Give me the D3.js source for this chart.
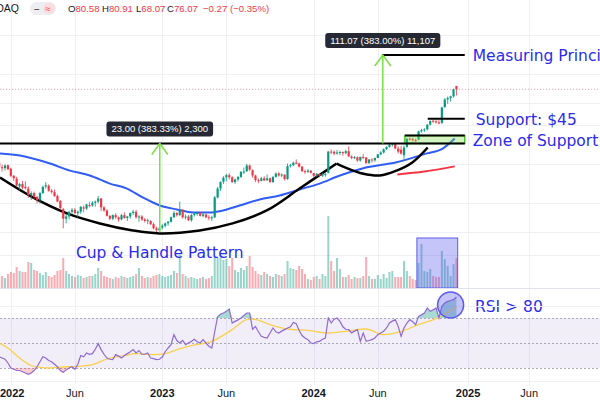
<!DOCTYPE html>
<html>
<head>
<meta charset="utf-8">
<script src="https://cdn.jsdelivr.net/npm/d3@7/dist/d3.min.js"></script>
<style>
  body { margin: 0; background: #fff; }
  svg { display: block; }
</style>
</head>
<body>
<div id="chart"></div>
<script>
// Store the dimensions of the SVG container
var svgWidth = 600;
var svgHeight = 400;

// weekly bars, week of Dec 6 2021 -> week of Dec 9 2024 (158 bars)
var weeks = d3.timeMonday.range(new Date(2021, 11, 6), new Date(2024, 11, 10));

var opens = [20.6,19.0,18.7,19.7,18.5,16.3,15.5,13.5,14.1,13.4,
  13.0,11.6,12.0,11.2,10.6,12.0,13.5,13.7,12.5,12.2,
  11.4,10.4,9.0,7.6,7.9,8.6,8.9,8.4,8.6,9.3,
  9.1,9.7,9.6,10.1,10.3,10.9,9.3,8.8,8.0,7.6,
  8.1,7.8,7.5,8.1,7.7,7.9,8.4,8.6,7.8,7.9,
  7.5,7.3,7.3,6.9,6.4,6.2,6.5,6.7,7.0,7.2,
  7.8,8.4,8.1,8.9,7.8,7.9,7.4,8.1,8.3,8.4,
  8.0,8.2,7.8,7.7,7.8,11.1,13.0,14.7,15.9,16.5,
  15.9,14.6,15.3,16.0,17.5,17.7,19.6,18.0,16.4,15.1,
  14.9,15.6,15.1,15.6,14.6,16.0,17.0,16.4,16.6,15.4,
  19.5,19.7,20.6,20.3,19.2,17.7,17.5,17.9,17.1,16.3,
  16.9,16.3,16.8,17.2,25.1,25.0,24.2,24.7,24.9,24.4,
  25.3,23.0,22.4,22.7,21.4,22.8,22.6,20.4,21.8,21.5,
  22.4,23.9,24.7,26.2,27.3,28.4,28.9,26.5,26.0,23.5,
  27.2,31.6,31.5,30.8,31.0,36.0,36.8,37.3,40.5,43.5,
  43.0,42.2,41.9,55.5,63.5,65.1,67.1,80.58];

var highs = [21.2,19.9,20.0,19.9,18.8,16.6,16.0,14.4,14.9,14.8,
  13.5,12.4,12.3,11.4,12.2,13.7,14.6,14.0,12.9,12.8,
  11.7,10.6,9.2,8.3,8.7,9.2,9.2,8.8,9.5,9.6,
  9.9,10.2,10.4,10.5,11.4,11.0,9.5,9.0,8.1,8.2,
  8.4,7.9,8.3,8.5,8.0,8.5,8.9,8.9,8.1,8.1,
  7.7,7.6,7.4,7.1,6.6,6.5,6.9,7.1,7.3,7.9,
  8.7,8.6,10.3,9.0,8.2,8.1,8.3,8.5,8.6,8.6,
  8.4,8.3,8.1,8.0,11.4,13.4,14.8,16.2,16.9,17.1,
  16.2,15.5,16.2,17.8,18.9,20.2,19.9,18.3,16.6,15.6,
  16.0,16.2,16.7,15.8,16.2,17.3,17.4,17.0,16.8,20.3,
  20.1,21.0,21.8,20.6,19.4,18.2,18.4,18.0,17.2,17.1,
  17.0,17.2,17.3,25.4,26.1,25.6,25.9,25.5,25.2,26.0,
  27.5,23.5,23.2,23.0,23.0,24.0,22.8,22.0,22.3,22.6,
  24.1,25.3,26.5,27.6,28.8,29.3,29.2,27.5,27.7,28.0,
  31.8,32.3,32.0,31.6,36.4,37.6,38.0,41.0,43.8,44.3,
  44.6,44.0,55.8,65.0,66.9,67.8,76.9,80.91];

var lows = [18.6,17.6,17.9,18.2,15.9,14.9,13.6,12.6,12.8,12.8,
  11.0,10.6,10.8,10.0,10.0,11.8,13.0,12.3,11.9,11.2,
  10.2,9.0,6.4,7.0,7.5,8.3,8.3,7.8,8.3,8.5,
  8.9,9.3,9.4,9.4,10.0,8.7,8.6,7.9,7.4,7.4,
  7.6,7.2,7.4,7.6,7.3,7.6,8.1,7.6,7.2,7.3,
  7.1,6.9,6.8,6.3,6.0,5.92,6.3,6.5,6.7,7.1,
  7.7,7.9,8.0,7.6,7.5,7.3,7.2,7.9,8.0,7.9,
  7.8,7.7,7.4,7.3,7.7,10.9,12.4,14.1,14.8,15.3,
  14.3,14.1,14.8,15.7,16.8,17.5,17.8,15.8,14.6,14.3,
  14.8,14.9,14.9,14.4,14.4,15.8,16.1,15.9,15.0,15.2,
  18.9,19.3,20.0,18.9,17.5,16.9,17.2,17.0,15.7,16.0,
  15.9,16.0,16.1,17.0,24.0,23.5,23.8,23.6,23.3,23.9,
  22.9,21.9,22.0,20.9,21.0,21.9,20.3,20.3,20.6,20.9,
  22.3,23.5,24.3,25.8,26.9,27.4,26.2,24.3,23.8,21.2,
  27.0,30.6,30.0,29.7,30.8,35.2,35.6,36.5,40.0,41.8,
  41.3,40.8,41.0,54.5,58.6,61.0,65.5,68.07];

var closes = [19.0,18.7,19.6,18.3,16.3,15.6,13.7,14.1,13.2,13.1,
  11.6,12.0,11.2,10.6,12.0,13.4,13.8,12.5,12.2,11.4,
  10.3,9.2,7.6,7.9,8.6,8.9,8.4,8.6,9.4,9.1,
  9.8,9.6,10.1,10.3,10.9,9.3,8.8,8.0,7.6,8.1,
  7.8,7.5,8.1,7.7,7.9,8.4,8.6,7.8,7.9,7.5,
  7.3,7.4,6.9,6.4,6.2,6.42,6.7,7.0,7.2,7.8,
  8.4,8.1,8.9,7.8,7.9,7.4,8.1,8.3,8.4,8.0,
  8.2,7.8,7.7,7.8,11.1,13.0,14.6,15.8,16.5,15.9,
  14.6,15.3,16.0,17.5,17.6,19.6,18.2,16.4,15.1,14.8,
  15.6,15.0,15.6,14.6,16.0,17.0,16.4,16.7,15.4,19.4,
  19.7,20.6,20.3,19.2,17.7,17.5,17.9,17.2,16.3,16.9,
  16.3,16.8,16.9,25.1,25.0,24.2,24.7,24.9,24.4,25.3,
  23.0,22.4,22.7,21.4,22.8,22.6,20.4,21.8,21.5,22.4,
  23.9,24.7,26.2,27.3,28.4,28.9,26.5,25.1,24.2,27.0,
  31.6,31.5,30.8,30.4,36.0,36.8,37.3,40.5,43.3,42.9,
  42.2,41.4,55.0,63.5,65.1,67.1,76.34,76.07];

// weekly volume (millions of shares)
var volumes = [165,180,150,210,240,225,315,255,240,240,
  390,375,270,255,225,195,240,180,165,195,
  255,270,450,255,210,180,165,195,180,150,
  165,180,180,210,300,255,180,165,150,135,
  165,150,180,165,150,165,180,210,300,180,
  150,165,150,180,195,210,180,165,180,195,
  255,225,495,210,180,150,165,150,135,150,
  165,135,150,180,480,450,495,420,435,330,
  450,270,240,300,270,330,480,315,255,210,
  195,240,210,180,165,210,195,180,210,405,
  300,285,270,330,285,210,135,120,165,180,
  135,210,180,1080,405,255,450,285,165,165,
  195,135,165,150,150,180,465,180,135,135,
  195,135,210,150,240,255,165,165,165,405,
  255,180,135,120,375,660,255,240,285,180,
  165,165,555,435,330,180,360,450];

// weekly RSI(14)
var rsi = [39,38,37,34,30,29,28,28,27,26,
  25,26,28,31,35,39,38,36,35,33,
  31,28,26.5,28.5,30,31,29,33,40,39,
  42,41,41.5,45,49.5,44.7,41,38,37,36.7,
  40.7,39.5,38,40,41.5,43,44.7,42,44,41,
  41,42,38,37.5,36.7,37,38.8,43,46,48.7,
  56.7,52,50,52,48.7,50,51.3,53,51,50,
  52.7,50,47.3,46,59,71,73,74,75.3,77.2,
  66,67.3,68.5,70,72,74,74,61,63.3,59,
  55.3,54.5,54,58,62,59,58,59.5,60.7,62,
  63,66.5,65.5,60,56,54,52.7,50,49.5,51,
  51.3,53,54,70,66,69,70,67.3,63,61,
  60.7,58,59.5,60.7,51.3,58,51.3,52,52.7,54,
  56.7,58,59.3,62,66,67.5,68.7,63.3,55.3,62,
  66,68.7,67,64.7,71.3,72.5,74,78,75.3,76.5,
  78,70,79.3,82,83.3,84,84.7,86.8];

// RSI moving average (yellow), read at these bar indexes
var rsiMaIdx = [0,3,7,11,14,17,22,27,32,37,43,47,53,57,61,66,73,80,85,87,93,99,106,113,119,126,132,138,144,151,157];
var rsiMaVals = [50,46,38,32,30.5,30,30.8,31.3,32.7,37.2,39.9,41.5,40.7,41.5,44.7,47.9,51.3,60.7,68.7,69.2,64.7,61.2,60.1,58,59.3,61.2,56.7,59.3,64.7,70.5,78.8];

// 50-week SMA (blue)
var sma50Dates = ["2021-12-08","2022-01-25","2022-04-07","2022-05-25","2022-07-12","2022-08-29","2022-10-09","2022-11-16","2022-12-27","2023-02-06","2023-03-17","2023-04-26","2023-05-28","2023-07-07","2023-08-24","2023-10-11","2023-11-28","2024-01-15","2024-03-04","2024-04-27","2024-07-18","2024-09-29","2024-11-06","2024-12-05"];
var sma50Vals = [24.3,23.4,20.3,17.9,16.4,14.2,13.0,11.1,9.62,8.96,8.49,8.49,8.8,9.62,10.7,11.5,12.8,14.2,16.4,18.6,20.8,24.3,26.5,31.7];

// 200-week SMA (red)
var sma200Dates = ["2024-07-20","2024-09-23","2024-12-05"];
var sma200Vals = [16.7,17.6,19.3];

// cup and handle drawing
var cupDates = ["2021-12-08","2022-02-25","2022-05-18","2022-08-05","2022-10-23","2022-12-27","2023-04-02","2023-06-20","2023-09-10","2023-11-28","2024-02-25"];
var cupVals = [15.8,11.1,8.35,6.99,6.17,5.85,6.17,6.99,8.8,13.0,20.3];
var handleDates = ["2024-02-25","2024-03-28","2024-04-27","2024-06-08","2024-07-18","2024-08-25","2024-10-01"];
var handleVals = [20.3,18.3,17.0,16.4,17.9,20.7,27.0];

// price levels
var cupLow = 6.00;
var rimPrice = 29.00;
var targetPrice = 140.07;
var supportPrice = 45;
var zoneTop = 33.4;

// time axis
var tickDates = ["2022-01-03","2022-06-06","2023-01-02","2023-06-05","2024-01-01","2024-06-03","2025-01-06","2025-06-02"];
var tickLabels = ["2022","Jun","2023","Jun","2024","Jun","2025","Jun"];
var priceGrid = [4, 6, 10, 20, 40, 60, 100, 200];

var parse = d3.timeParse("%Y-%m-%d");
var blue = "#2b2bea";
var arrowGreen = "#77e046";
var uiFont = "'Liberation Sans', Arial, sans-serif";

var svg = d3.select("#chart")
  .append("svg")
  .attr("width", svgWidth)
  .attr("height", svgHeight);

var xScale = d3.scaleTime()
  .domain([new Date(2022, 0, 1), new Date(2025, 0, 1)])
  .range([10, 466]);

var yPrice = d3.scaleLog()
  .domain([cupLow, targetPrice])
  .range([232, 55]);

var yVol = d3.scaleLinear()
  .domain([0, 1080])
  .range([288, 216]);

var yRsi = d3.scaleLinear()
  .domain([30, 70])
  .range([368, 318]);

var defs = svg.append("defs");
defs.append("clipPath").attr("id", "mainClip")
  .append("rect").attr("x", 0).attr("y", 0).attr("width", svgWidth).attr("height", 288);
defs.append("clipPath").attr("id", "rsiClip")
  .append("rect").attr("x", 0).attr("y", 289).attr("width", svgWidth).attr("height", 96);

// grid
var grid = svg.append("g");
grid.selectAll(".vgrid")
  .data(tickDates)
  .join("line")
  .attr("x1", d => Math.round(xScale(parse(d))) + 0.5)
  .attr("x2", d => Math.round(xScale(parse(d))) + 0.5)
  .attr("y1", 0).attr("y2", 385)
  .attr("stroke", "#eef0f4");
grid.selectAll(".hgrid")
  .data(priceGrid.filter(p => yPrice(p) < 288 && yPrice(p) > 18))
  .join("line")
  .attr("x1", 0).attr("x2", svgWidth)
  .attr("y1", d => Math.round(yPrice(d)) + 0.5)
  .attr("y2", d => Math.round(yPrice(d)) + 0.5)
  .attr("stroke", "#eef0f4");

var mainGroup = svg.append("g").attr("clip-path", "url(#mainClip)");

// volume overlay
mainGroup.selectAll(".vol")
  .data(weeks)
  .join("rect")
  .attr("x", d => xScale(d) - 1)
  .attr("width", 2)
  .attr("y", (d, i) => yVol(volumes[i]))
  .attr("height", (d, i) => yVol(0) - yVol(volumes[i]))
  .attr("fill", (d, i) => closes[i] >= opens[i] ? "rgba(8,153,129,0.42)" : "rgba(242,54,69,0.42)");

// volume highlight box
mainGroup.append("rect")
  .attr("x", xScale(parse("2024-09-05")))
  .attr("y", yVol(750))
  .attr("width", xScale(parse("2024-12-12")) - xScale(parse("2024-09-05")))
  .attr("height", yVol(0) - yVol(750))
  .attr("fill", "rgba(90,90,240,0.35)")
  .attr("stroke", "#5a5af0")
  .attr("stroke-width", 1);

// last price line
mainGroup.append("line")
  .attr("x1", 0).attr("x2", svgWidth)
  .attr("y1", yPrice(closes[closes.length - 1]))
  .attr("y2", yPrice(closes[closes.length - 1]))
  .attr("stroke", "#f23645")
  .attr("stroke-opacity", 0.5)
  .attr("stroke-dasharray", "1,2");

// moving averages
var maLine = d3.line()
  .x(d => xScale(parse(d[0])))
  .y(d => yPrice(d[1]))
  .curve(d3.curveMonotoneX);

mainGroup.append("path")
  .attr("d", maLine(d3.zip(sma50Dates, sma50Vals)))
  .attr("fill", "none")
  .attr("stroke", "#2f5cf5")
  .attr("stroke-width", 2);

mainGroup.append("path")
  .attr("d", maLine(d3.zip(sma200Dates, sma200Vals)))
  .attr("fill", "none")
  .attr("stroke", "#f23645")
  .attr("stroke-width", 2);

// cup & handle curves
var cupLine = d3.line()
  .x(d => xScale(parse(d[0])))
  .y(d => yPrice(d[1]))
  .curve(d3.curveCatmullRom);

mainGroup.append("path")
  .attr("d", cupLine(d3.zip(cupDates, cupVals)))
  .attr("fill", "none")
  .attr("stroke", "#000")
  .attr("stroke-width", 2.5);
mainGroup.append("path")
  .attr("d", cupLine(d3.zip(handleDates, handleVals)))
  .attr("fill", "none")
  .attr("stroke", "#000")
  .attr("stroke-width", 2.5);

// candles
var candleColor = (i) => closes[i] >= opens[i] ? "#089981" : "#f23645";
mainGroup.selectAll(".wick")
  .data(weeks)
  .join("line")
  .attr("x1", d => xScale(d))
  .attr("x2", d => xScale(d))
  .attr("y1", (d, i) => yPrice(highs[i]))
  .attr("y2", (d, i) => yPrice(lows[i]))
  .attr("stroke", (d, i) => candleColor(i))
  .attr("stroke-width", 0.8);
mainGroup.selectAll(".body")
  .data(weeks)
  .join("rect")
  .attr("x", d => xScale(d) - 1.1)
  .attr("width", 2.2)
  .attr("y", (d, i) => yPrice(Math.max(opens[i], closes[i])))
  .attr("height", (d, i) => Math.max(1, Math.abs(yPrice(opens[i]) - yPrice(closes[i]))))
  .attr("fill", (d, i) => candleColor(i));

// zone of support
var zoneX1 = xScale(parse("2024-08-07"));
var lineEnd = xScale(parse("2024-12-29"));
mainGroup.append("rect")
  .attr("x", zoneX1)
  .attr("y", yPrice(zoneTop))
  .attr("width", lineEnd - zoneX1)
  .attr("height", yPrice(rimPrice) - yPrice(zoneTop))
  .attr("fill", "rgba(124,220,72,0.35)")
  .attr("stroke", "#4fc42a")
  .attr("stroke-width", 1.5);

function hLine(d1, x2, price) {
  mainGroup.append("line")
    .attr("x1", d1 === null ? -5 : xScale(parse(d1)))
    .attr("x2", x2)
    .attr("y1", yPrice(price))
    .attr("y2", yPrice(price))
    .attr("stroke", "#000")
    .attr("stroke-width", 2);
}
hLine(null, lineEnd, rimPrice);
hLine("2024-08-07", lineEnd, zoneTop);
hLine("2024-10-01", lineEnd, supportPrice);
hLine("2024-06-13", lineEnd, targetPrice);

// measure arrows with labels
var fmt2 = d3.format(".2f");
var fmtInt = d3.format(",");
function measure(dateStr, from, to) {
  var ax = xScale(parse(dateStr));
  var y0 = yPrice(from);
  var y1 = yPrice(to);
  mainGroup.append("line")
    .attr("x1", ax).attr("x2", ax)
    .attr("y1", y0).attr("y2", y1)
    .attr("stroke", arrowGreen)
    .attr("stroke-width", 1.5);
  mainGroup.append("path")
    .attr("d", `M${ax - 8},${y1 + 11}L${ax},${y1}L${ax + 8},${y1 + 11}`)
    .attr("fill", "none")
    .attr("stroke", arrowGreen)
    .attr("stroke-width", 1.5);
  var diff = to - from;
  var label = `${fmt2(diff)} (${fmt2(diff / from * 100)}%) ${fmtInt(Math.round(diff * 100))}`;
  var g = mainGroup.append("g");
  var t = g.append("text")
    .attr("x", ax)
    .attr("y", y1 - 11)
    .attr("text-anchor", "middle")
    .attr("font-family", uiFont)
    .attr("font-size", 9.5)
    .attr("fill", "#fff")
    .text(label);
  var bb = t.node().getBBox();
  g.insert("rect", "text")
    .attr("x", bb.x - 5)
    .attr("y", bb.y - 2)
    .attr("width", bb.width + 10)
    .attr("height", bb.height + 4)
    .attr("rx", 3)
    .attr("fill", "#131722")
    .attr("fill-opacity", 0.92);
}
measure("2022-12-27", cupLow, rimPrice);
measure("2024-06-15", rimPrice, targetPrice);

// annotation texts
var notes = svg.append("g")
  .attr("font-family", "'DejaVu Sans', sans-serif")
  .attr("font-size", 15.5)
  .attr("fill", blue);
notes.append("text").attr("x", lineEnd + 8).attr("y", yPrice(targetPrice) + 6).text("Measuring Principle");
notes.append("text").attr("x", lineEnd + 11).attr("y", yPrice(supportPrice) + 6).text("Support: $45");
notes.append("text").attr("x", lineEnd + 8).attr("y", yPrice(31) + 6).text("Zone of Support");
notes.append("text").attr("x", xScale(parse("2022-12-27"))).attr("y", 258)
  .attr("text-anchor", "middle").text("Cup & Handle Pattern");
notes.append("text").attr("x", 475).attr("y", yRsi(80) + 6).text("RSI > 80");

// pane separator
svg.append("line")
  .attr("x1", 0).attr("x2", svgWidth)
  .attr("y1", 288.5).attr("y2", 288.5)
  .attr("stroke", "#e0e3eb");

// RSI pane
var rsiGroup = svg.append("g").attr("clip-path", "url(#rsiClip)");
rsiGroup.append("rect")
  .attr("x", 0).attr("width", svgWidth)
  .attr("y", yRsi(70)).attr("height", yRsi(30) - yRsi(70))
  .attr("fill", "rgba(126,87,194,0.1)");
rsiGroup.selectAll(".rgrid")
  .data([20, 40, 60, 80])
  .join("line")
  .attr("x1", 0).attr("x2", svgWidth)
  .attr("y1", d => Math.round(yRsi(d)) + 0.5)
  .attr("y2", d => Math.round(yRsi(d)) + 0.5)
  .attr("stroke", "#eef0f4");
rsiGroup.selectAll(".band")
  .data([70, 50, 30])
  .join("line")
  .attr("x1", 0).attr("x2", svgWidth)
  .attr("y1", d => Math.round(yRsi(d)) + 0.5)
  .attr("y2", d => Math.round(yRsi(d)) + 0.5)
  .attr("stroke", "#9598a1")
  .attr("stroke-opacity", 0.8)
  .attr("stroke-dasharray", "2,2");

// overbought / oversold fills
rsiGroup.append("path")
  .attr("d", d3.area()
    .x((d, i) => xScale(weeks[i]))
    .y0(yRsi(70))
    .y1(d => yRsi(Math.max(d, 70)))(rsi))
  .attr("fill", "rgba(8,153,129,0.35)");
rsiGroup.append("path")
  .attr("d", d3.area()
    .x((d, i) => xScale(weeks[i]))
    .y0(yRsi(30))
    .y1(d => yRsi(Math.min(d, 30)))(rsi))
  .attr("fill", "rgba(242,54,69,0.25)");

rsiGroup.append("path")
  .attr("d", d3.line()
    .x(d => xScale(weeks[d[0]]))
    .y(d => yRsi(d[1]))
    .curve(d3.curveMonotoneX)(d3.zip(rsiMaIdx, rsiMaVals)))
  .attr("fill", "none")
  .attr("stroke", "#f9d04d")
  .attr("stroke-width", 1.3);

rsiGroup.append("path")
  .attr("d", d3.line()
    .x((d, i) => xScale(weeks[i]))
    .y(d => yRsi(d))(rsi))
  .attr("fill", "none")
  .attr("stroke", "#8e6ad0")
  .attr("stroke-width", 1.2);

svg.append("circle")
  .attr("cx", xScale(parse("2024-11-25")))
  .attr("cy", yRsi(80.4))
  .attr("r", 13)
  .attr("fill", "rgba(90,90,240,0.35)")
  .attr("stroke", "#5a5af0")
  .attr("stroke-width", 1.5);

// time axis labels
svg.append("g")
  .selectAll("text")
  .data(tickDates)
  .join("text")
  .attr("x", (d, i) => i === 0 ? 0 : xScale(parse(d)))
  .attr("y", 397)
  .attr("text-anchor", (d, i) => i === 0 ? "start" : "middle")
  .attr("font-family", uiFont)
  .attr("font-size", 11)
  .attr("font-weight", (d, i) => tickLabels[i] === "Jun" ? 400 : 700)
  .attr("fill", "#131722")
  .text((d, i) => tickLabels[i]);

// header legend
var last = closes.length - 1;
var header = svg.append("g")
  .attr("font-family", uiFont)
  .attr("font-size", 9.6);
header.append("text")
  .attr("x", 19).attr("y", 12)
  .attr("text-anchor", "end")
  .attr("font-size", 10.5)
  .attr("fill", "#131722")
  .text("NASDAQ");
header.append("rect")
  .attr("x", 30).attr("y", 2)
  .attr("width", 26).attr("height", 13)
  .attr("rx", 6.5)
  .attr("fill", "#eceef2");
header.append("rect")
  .attr("x", 43).attr("y", 3)
  .attr("width", 12).attr("height", 11)
  .attr("rx", 5.5)
  .attr("fill", "#fcdde0");
header.append("text").attr("x", 34).attr("y", 12).attr("fill", "#555").attr("font-weight", 700).text("–");
header.append("text").attr("x", 45).attr("y", 12).attr("fill", "#f23645").text("≈");

var legend = [["O", opens[last], 68], ["H", highs[last], 102], ["L", lows[last], 136], ["C", closes[last], 167]];
legend.forEach(function(item) {
  var t = header.append("text").attr("x", item[2]).attr("y", 12);
  t.append("tspan").attr("fill", "#131722").text(item[0]);
  t.append("tspan").attr("fill", "#f23645").text(fmt2(item[1]));
});
var chg = closes[last] - closes[last - 1];
header.append("text")
  .attr("x", 203).attr("y", 12)
  .attr("fill", "#f23645")
  .text(`${fmt2(chg)} (${fmt2(chg / closes[last - 1] * 100)}%)`);
</script>
</body>
</html>
